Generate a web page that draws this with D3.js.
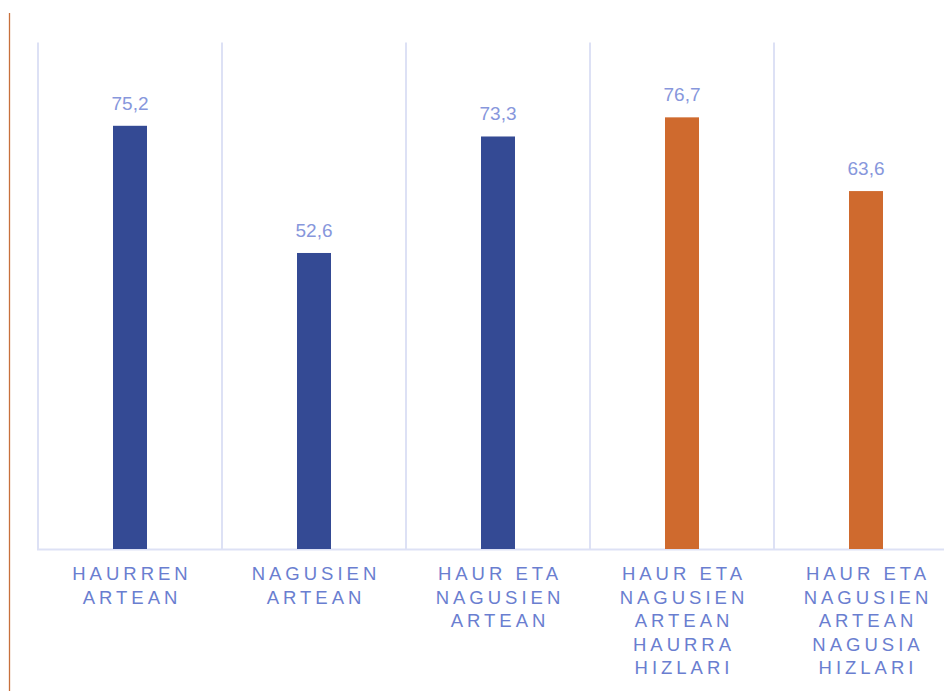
<!DOCTYPE html>
<html>
<head>
<meta charset="utf-8">
<script src="https://cdn.jsdelivr.net/npm/d3@7"></script>
<style>
  html, body { margin: 0; padding: 0; background: #ffffff; }
  svg { display: block; }
</style>
</head>
<body>
<svg id="chart" width="944" height="691"></svg>
<script>
// ---- data ----
const categories = [
  ["HAURREN", "ARTEAN"],
  ["NAGUSIEN", "ARTEAN"],
  ["HAUR ETA", "NAGUSIEN", "ARTEAN"],
  ["HAUR ETA", "NAGUSIEN", "ARTEAN", "HAURRA", "HIZLARI"],
  ["HAUR ETA", "NAGUSIEN", "ARTEAN", "NAGUSIA", "HIZLARI"]
];
const values = [75.2, 52.6, 73.3, 76.7, 63.6];
const groups = ["a", "a", "a", "b", "b"];
const valueLabels = ["75,2", "52,6", "73,3", "76,7", "63,6"];

// ---- layout ----
const W = 944, H = 691;
const plot = { left: 38, right: 958, top: 42.5, bottom: 549 };
const barWidth = 34;
const colors = { a: "#344a94", b: "#cf6a2e" };

const svg = d3.select("#chart");
const keys = categories.map((c, i) => "c" + i);

const x = d3.scaleBand().domain(keys).range([plot.left, plot.right]).padding(0);
const y = d3.scaleLinear().domain([0, 90]).range([plot.bottom, plot.top]);

// left decorative line
svg.append("line")
  .attr("x1", 9.5).attr("x2", 9.5)
  .attr("y1", 13).attr("y2", H)
  .attr("stroke", "#c8703c").attr("stroke-width", 1.3);

// vertical gridlines at category boundaries
const bounds = keys.map(k => x(k)).concat([plot.right]);
svg.append("g").selectAll("line").data(bounds).join("line")
  .attr("x1", d => d).attr("x2", d => d)
  .attr("y1", plot.top).attr("y2", plot.bottom)
  .attr("stroke", "#dde1f5").attr("stroke-width", 2);

// baseline
svg.append("line")
  .attr("x1", plot.left - 1).attr("x2", plot.right)
  .attr("y1", plot.bottom + 0.5).attr("y2", plot.bottom + 0.5)
  .attr("stroke", "#dde1f5").attr("stroke-width", 2);

// bars
svg.append("g").selectAll("rect").data(values).join("rect")
  .attr("x", (d, i) => x(keys[i]) + (x.bandwidth() - barWidth) / 2)
  .attr("y", d => y(d))
  .attr("width", barWidth)
  .attr("height", d => y(0) - y(d))
  .attr("fill", (d, i) => colors[groups[i]]);

// value labels
svg.append("g").selectAll("text").data(values).join("text")
  .attr("x", (d, i) => x(keys[i]) + x.bandwidth() / 2)
  .attr("y", d => y(d) - 16)
  .attr("text-anchor", "middle")
  .attr("font-family", "'Liberation Sans', Arial, sans-serif")
  .attr("font-size", 19)
  .attr("fill", "#8797dc")
  .text((d, i) => valueLabels[i]);

// category labels
const ls = 4;
const lab = svg.append("g").selectAll("text").data(categories).join("text")
  .attr("text-anchor", "middle")
  .attr("font-family", "'Liberation Sans', Arial, sans-serif")
  .attr("font-size", 18.5)
  .attr("letter-spacing", ls)
  .attr("fill", "#6a7ed0");
lab.each(function(lines, i) {
  const cx = x(keys[i]) + x.bandwidth() / 2 + ls / 2;
  d3.select(this).selectAll("tspan").data(lines).join("tspan")
    .attr("x", cx)
    .attr("y", (d, j) => 580 + j * 23.5)
    .text(d => d);
});
</script>
</body>
</html>
